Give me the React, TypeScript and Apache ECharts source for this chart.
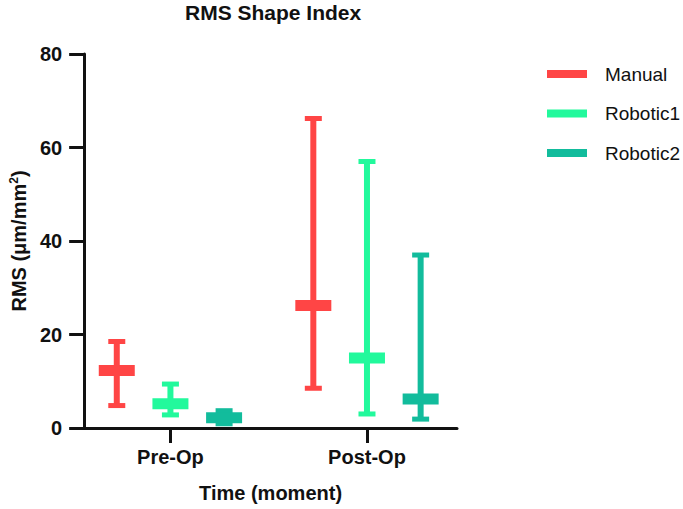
import React, { useEffect, useRef } from "react";
import * as echarts from "echarts";

const CATEGORIES = ["Pre-Op", "Post-Op"];
const SERIES_NAMES = ["Manual", "Robotic1", "Robotic2"];
const COLORS = ["#FF4545", "#22F99C", "#12BC9C"];
// per category: [min, mean, max]
const MANUAL = [
  [4.8, 12.3, 18.5],
  [8.5, 26.2, 66.2],
];
const ROBOTIC1 = [
  [2.8, 5.2, 9.4],
  [3.0, 15.0, 57.0],
];
const ROBOTIC2 = [
  [0.9, 2.2, 3.7],
  [1.9, 6.2, 37.0],
];
const Y_TICKS = [0, 20, 40, 60, 80];

const SERIES_VALUES = [MANUAL, ROBOTIC1, ROBOTIC2];
const OFFSETS = [-0.273, 0, 0.273];

export default function App() {
  const ref = useRef<HTMLDivElement>(null);
  useEffect(() => {
    if (!ref.current) return;
    const chart = echarts.init(ref.current, null, { renderer: "svg" });
    const font = "'Liberation Sans', Arial, sans-serif";
    const series = SERIES_NAMES.map((name, si) => ({
      name,
      type: "custom",
      itemStyle: { color: COLORS[si] },
      encode: { x: 0, y: [1, 2, 3] },
      data: SERIES_VALUES[si].map((v, ci) => [ci + 1, v[0], v[1], v[2]]),
      renderItem: (params: any, api: any) => {
        const xv = api.value(0) + OFFSETS[params.seriesIndex];
        const pLo = api.coord([xv, api.value(1)]);
        const pMean = api.coord([xv, api.value(2)]);
        const pHi = api.coord([xv, api.value(3)]);
        const cx = pMean[0];
        const color = COLORS[params.seriesIndex];
        const style = { fill: color };
        return {
          type: "group",
          children: [
            { type: "rect", shape: { x: cx - 3, y: pHi[1], width: 6, height: pLo[1] - pHi[1] }, style },
            { type: "rect", shape: { x: cx - 8.5, y: pHi[1] - 2.5, width: 17, height: 5 }, style },
            { type: "rect", shape: { x: cx - 8.5, y: pLo[1] - 2.5, width: 17, height: 5 }, style },
            { type: "rect", shape: { x: cx - 18, y: pMean[1] - 5.5, width: 36, height: 11 }, style },
          ],
        };
      },
    }));
    chart.setOption({
      animation: false,
      color: COLORS,
      title: {
        text: "RMS Shape Index",
        left: 180,
        top: -3,
        textStyle: { fontFamily: font, fontWeight: "bold", fontSize: 21, color: "#111" },
      },
      legend: {
        orient: "vertical",
        left: 542,
        top: 59,
        itemWidth: 40,
        itemHeight: 8,
        itemGap: 19.5,
        icon: "rect",
        data: SERIES_NAMES,
        selectedMode: false,
        textStyle: { fontFamily: font, fontSize: 19, color: "#111", lineHeight: 20, padding: [0, 0, 0, 13] },
      },
      grid: { left: 81, right: 226, top: 54, bottom: 81 },
      xAxis: {
        type: "value",
        min: 0.561,
        max: 2.458,
        name: "Time (moment)",
        nameLocation: "middle",
        nameGap: 55,
        nameTextStyle: { fontFamily: font, fontWeight: "bold", fontSize: 20, color: "#111" },
        axisLine: { show: true, onZero: false, lineStyle: { color: "#111", width: 3 } },
        axisTick: { show: true, length: 15, lineStyle: { color: "#111", width: 3 }, customValues: [1, 2] },
        axisLabel: {
          customValues: [1, 2],
          margin: 19,
          formatter: (v: number) => CATEGORIES[Math.round(v) - 1] ?? "",
          fontFamily: font,
          fontWeight: "bold",
          fontSize: 20,
          color: "#111",
        },
        splitLine: { show: false },
      },
      yAxis: {
        type: "value",
        min: Y_TICKS[0],
        max: Y_TICKS[Y_TICKS.length - 1],
        interval: 20,
        name: "RMS (μm/mm{sup|2})",
        nameLocation: "middle",
        nameGap: 51,
        nameRotate: 90,
        nameTextStyle: {
          fontFamily: font,
          fontWeight: "bold",
          fontSize: 20,
          color: "#111",
          rich: {
            sup: { fontFamily: font, fontWeight: "bold", fontSize: 12, color: "#111", verticalAlign: "top", padding: [0, 0, 10, 0] },
          },
        },
        axisLine: { show: true, lineStyle: { color: "#111", width: 3 } },
        axisTick: { show: true, length: 15, lineStyle: { color: "#111", width: 3 } },
        axisLabel: { margin: 22, fontFamily: font, fontWeight: "bold", fontSize: 20, color: "#111" },
        splitLine: { show: false },
      },
      series,
    });
    return () => chart.dispose();
  }, []);
  return <div ref={ref} style={{ width: 683, height: 509, position: "absolute", left: 0, top: 0 }} />;
}
